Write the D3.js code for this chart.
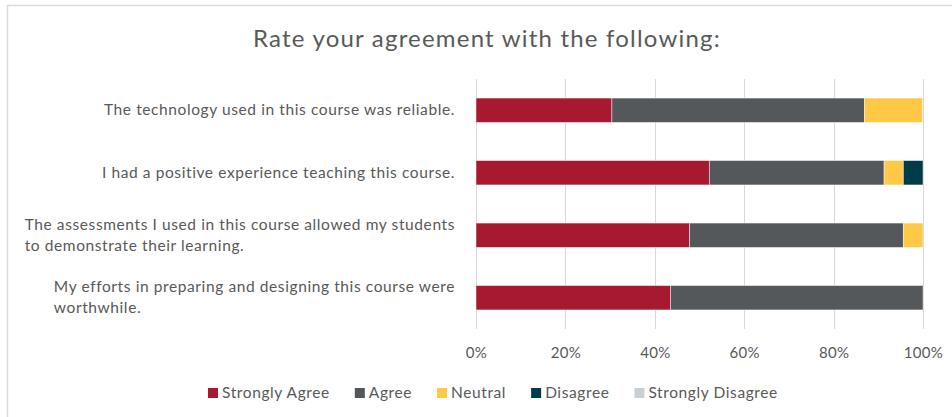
<!DOCTYPE html>
<html>
<head>
<meta charset="utf-8">
<script src="https://cdn.jsdelivr.net/npm/d3@7"></script>
<style>
  body { margin: 0; background: #fff; }
  svg { display: block; font-family: Lato, "Open Sans", sans-serif; }
</style>
</head>
<body>
<div id="chart"></div>
<script>
var width = 952, height = 417;

// survey statements, top to bottom
var questions = [
  ["The technology used in this course was reliable."],
  ["I had a positive experience teaching this course."],
  ["The assessments I used in this course allowed my students", "to demonstrate their learning."],
  ["My efforts in preparing and designing this course were", "worthwhile."]
];
var responses = ["Strongly Agree", "Agree", "Neutral", "Disagree", "Strongly Disagree"];
var colors = ["#a6192e", "#54585a", "#ffc845", "#003b49", "#c8d0d5"];

// percent of answers per response, one array per question
var stronglyAgree    = [30.4, 52.2, 47.8, 43.5];
var agree            = [56.5, 39.1, 47.8, 56.5];
var neutral          = [13.0, 4.3, 4.4, 0];
var disagree         = [0, 4.4, 0, 0];
var stronglyDisagree = [0, 0, 0, 0];

var ticks = [0, 20, 40, 60, 80, 100];

var series = [stronglyAgree, agree, neutral, disagree, stronglyDisagree];
var rows = questions.map(function(q, i) {
  var r = { id: i };
  responses.forEach(function(k, j) { r[k] = series[j][i]; });
  return r;
});

var svg = d3.select("#chart").append("svg")
  .attr("width", width)
  .attr("height", height);

// chart frame (only top and left edges fall inside the picture)
svg.append("path")
  .attr("d", "M7.5," + height + "V5.5H" + width)
  .attr("fill", "none")
  .attr("stroke", "#d9d9d9")
  .attr("stroke-width", 1.5);

svg.append("text")
  .attr("x", 487)
  .attr("y", 47)
  .attr("text-anchor", "middle")
  .attr("fill", "#595959")
  .attr("font-size", 24)
  .attr("letter-spacing", 1.2)
  .text("Rate your agreement with the following:");

var x = d3.scaleLinear().domain([0, 100]).range([476, 923]);
var y = d3.scaleBand().domain(d3.range(questions.length)).range([79, 329]).paddingInner(0.61).paddingOuter(0.305);

// gridlines
svg.append("g").selectAll("line")
  .data(ticks)
  .enter().append("line")
  .attr("x1", d => Math.round(x(d)) + 0.5)
  .attr("x2", d => Math.round(x(d)) + 0.5)
  .attr("y1", 79)
  .attr("y2", 329)
  .attr("stroke", "#d9d9d9")
  .attr("stroke-width", 1);

// x axis labels
var xAxis = svg.append("g")
  .attr("transform", "translate(0,329)")
  .call(d3.axisBottom(x).tickValues(ticks).tickSize(0).tickPadding(18).tickFormat(d => d + "%"));
xAxis.select(".domain").remove();
xAxis.selectAll("text")
  .attr("fill", "#595959")
  .attr("font-size", 15)
  .attr("letter-spacing", 0.3)
  .attr("font-family", "Lato, 'Open Sans', sans-serif");

// stacked bars
var stack = d3.stack().keys(responses)(rows);
svg.append("g").selectAll("g")
  .data(stack)
  .enter().append("g")
  .attr("fill", (d, i) => colors[i])
  .selectAll("rect")
  .data(d => d.filter(s => s[1] - s[0] > 0))
  .enter().append("rect")
  .attr("x", d => x(d[0]))
  .attr("width", d => x(d[1]) - x(d[0]))
  .attr("y", d => y(d.data.id))
  .attr("height", y.bandwidth())
  .attr("stroke", "#ffffff")
  .attr("stroke-opacity", 0.6)
  .attr("stroke-width", 0.75);

// category labels: block right-aligned, lines left-aligned
var lineH = 21;
var labels = svg.append("g")
  .attr("fill", "#595959")
  .attr("font-size", 15.5)
  .attr("letter-spacing", 0.6);
questions.forEach(function(lines, i) {
  var cy = y(i) + y.bandwidth() / 2;
  var t = labels.append("text");
  lines.forEach(function(l, k) {
    t.append("tspan")
      .attr("x", 0)
      .attr("y", cy + 5 + (k - (lines.length - 1) / 2) * lineH)
      .text(l);
  });
  var w = t.node().getBBox().width;
  t.attr("transform", "translate(" + (455 - w) + ",0)");
});

// legend
var legend = svg.append("g")
  .attr("font-size", 15.5)
  .attr("letter-spacing", 0.6)
  .attr("fill", "#595959");
var lx = 208;
responses.forEach(function(r, i) {
  legend.append("rect")
    .attr("x", lx)
    .attr("y", 388)
    .attr("width", 10)
    .attr("height", 10)
    .attr("fill", colors[i]);
  var t = legend.append("text")
    .attr("x", lx + 14)
    .attr("y", 398)
    .text(r);
  lx += 14 + t.node().getComputedTextLength() + 25;
});
</script>
</body>
</html>
